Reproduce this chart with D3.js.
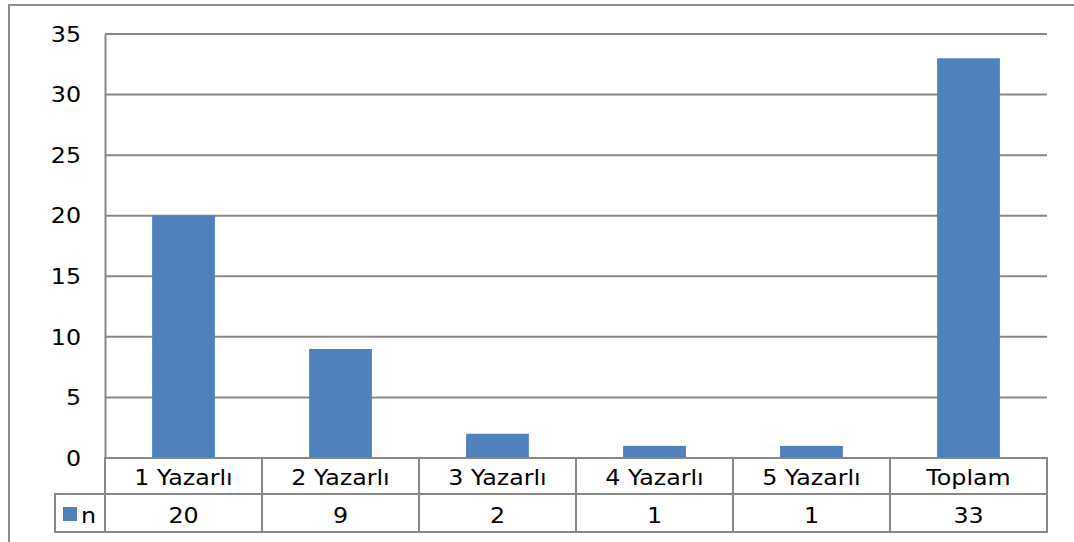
<!DOCTYPE html>
<html>
<head>
<meta charset="utf-8">
<script src="https://cdn.jsdelivr.net/npm/d3@7"></script>
<style>
  html, body { margin: 0; padding: 0; background: #fff; }
  svg { display: block; }
  text { font-family: "DejaVu Sans", Verdana, sans-serif; font-size: 22px; fill: #000; }
</style>
</head>
<body>
<div id="chart"></div>
<script>
const categories = ['1 Yazarlı', '2 Yazarlı', '3 Yazarlı', '4 Yazarlı', '5 Yazarlı', 'Toplam'];
const values = [20, 9, 2, 1, 1, 33];
const seriesName = 'n';
const yTicks = [0, 5, 10, 15, 20, 25, 30, 35];

const width = 1074, height = 542;
const plot = { left: 105, right: 1047, top: 34, bottom: 458 };
const legendLeft = 55;
const lineColor = '#878787';
const barColor = '#4f81bd';
const stretch = 1.08; // source font renders a bit wider than DejaVu

const svg = d3.select('#chart').append('svg')
  .attr('width', width)
  .attr('height', height);

// chart border (clipped on right and bottom like the source)
svg.append('path')
  .attr('d', `M9,${height + 2}V5H${width + 2}`)
  .attr('fill', 'none')
  .attr('stroke', '#8c8c8c')
  .attr('stroke-width', 2);

const x = d3.scaleBand()
  .domain(categories)
  .range([plot.left, plot.right])
  .paddingInner(0.6)
  .paddingOuter(0.3);

const y = d3.scaleLinear()
  .domain([0, 35])
  .range([plot.bottom, plot.top]);

function label(g, px, py, txt, anchor) {
  return g.append('text')
    .attr('transform', `translate(${px},${py}) scale(${stretch},1)`)
    .attr('dy', '0.35em')
    .attr('text-anchor', anchor || 'middle')
    .text(txt);
}

// gridlines
svg.append('g')
  .selectAll('line')
  .data(yTicks.filter(d => d > 0))
  .join('line')
    .attr('x1', plot.left)
    .attr('x2', plot.right)
    .attr('y1', d => y(d))
    .attr('y2', d => y(d))
    .attr('stroke', lineColor)
    .attr('stroke-width', 2);

// bars
svg.append('g')
  .selectAll('rect')
  .data(values)
  .join('rect')
    .attr('x', (d, i) => x(categories[i]))
    .attr('y', d => y(d))
    .attr('width', x.bandwidth())
    .attr('height', d => y(0) - y(d))
    .attr('fill', barColor);

// y axis line + tick labels
const yAxis = svg.append('g')
  .attr('transform', `translate(${plot.left},0)`)
  .call(d3.axisLeft(y).tickValues(yTicks).tickSize(0).tickFormat(''));
yAxis.select('.domain').attr('stroke', lineColor).attr('stroke-width', 2);

const yLabels = svg.append('g');
yTicks.forEach(t => label(yLabels, 81, y(t), t, 'end'));

// data table
const step = x.step();
const colEdges = d3.range(categories.length + 1).map(i => plot.left + i * step);
const r0 = plot.bottom, r1 = 494, r2 = 532;
const table = svg.append('g').attr('stroke', lineColor).attr('stroke-width', 2);

table.selectAll('line.col')
  .data(colEdges)
  .join('line')
    .attr('class', 'col')
    .attr('x1', d => d).attr('x2', d => d)
    .attr('y1', r0).attr('y2', r2);

[[plot.left, r0], [legendLeft, r1], [legendLeft, r2]].forEach(([x0, yy]) => {
  table.append('line')
    .attr('x1', x0 - 1).attr('x2', plot.right + 1)
    .attr('y1', yy).attr('y2', yy);
});
table.append('line')
  .attr('x1', legendLeft).attr('x2', legendLeft)
  .attr('y1', r1).attr('y2', r2);

const center = c => x(c) + x.bandwidth() / 2;
const headG = svg.append('g');
categories.forEach(c => label(headG, center(c), (r0 + r1) / 2 + 1, c));
const valG = svg.append('g');
values.forEach((v, i) => label(valG, center(categories[i]), (r1 + r2) / 2 + 2, v));

// legend key
svg.append('rect')
  .attr('x', 63).attr('y', 507)
  .attr('width', 14).attr('height', 14)
  .attr('fill', barColor);
label(svg, 81, (r1 + r2) / 2 + 2, seriesName, 'start');
</script>
</body>
</html>
